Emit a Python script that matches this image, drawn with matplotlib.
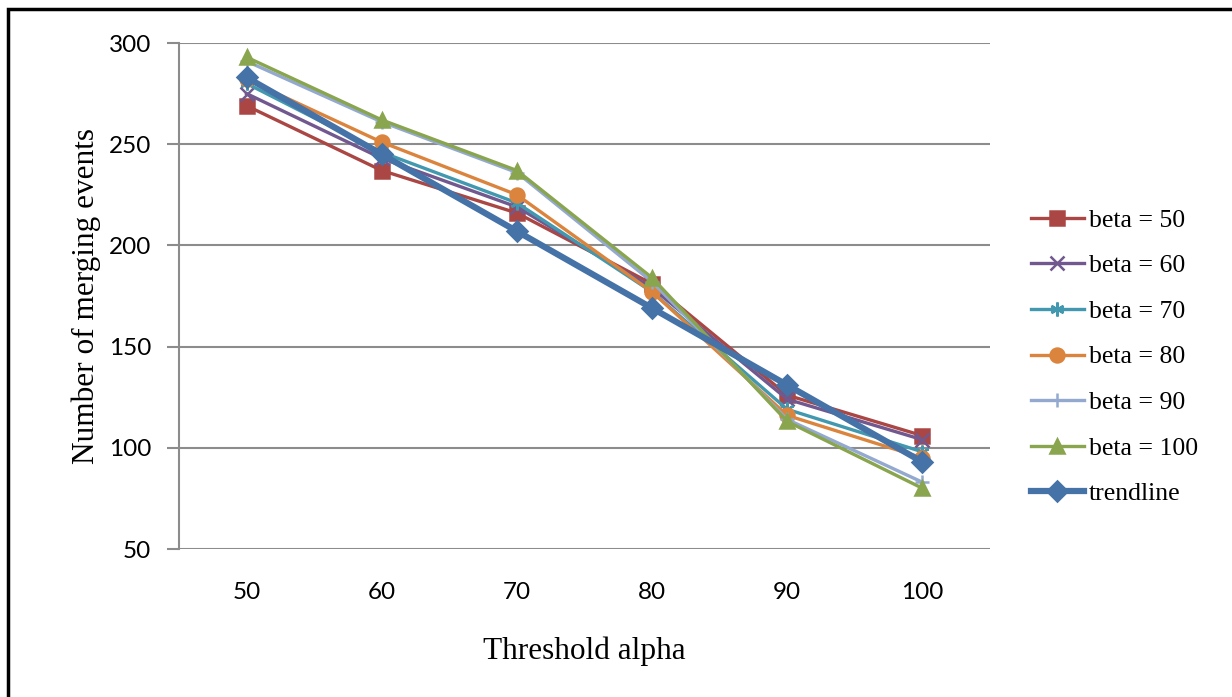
import matplotlib
matplotlib.use("Agg")
import matplotlib.pyplot as plt
from matplotlib.patches import Rectangle

alphas = ["50", "60", "70", "80", "90", "100"]
beta50 = [269, 237, 216, 181, 126, 106]
beta60 = [275, 243, 219, 179, 124, 104]
beta70 = [280, 246, 221, 177, 119, 98]
beta80 = [282, 251, 225, 177, 116, 95]
beta90 = [291, 261, 236, 182, 114, 83]
beta100 = [293, 262, 237, 184, 113, 80]
trendline = [283, 245, 207, 169, 131, 93]

labels = ["beta = 50", "beta = 60", "beta = 70", "beta = 80", "beta = 90", "beta = 100", "trendline"]
yticks = [50, 100, 150, 200, 250, 300]

series = [beta50, beta60, beta70, beta80, beta90, beta100, trendline]
colors = ["#AA4643", "#71588F", "#4198AF", "#DB843D", "#93A9CF", "#89A54E", "#4572A7"]
markers = ["s", "x", (6, 2, 0), "o", "+", "^", "D"]
msizes = [10, 9.5, 10, 10, 10, 10, 10.5]
lws = [2.4, 2.4, 2.4, 2.4, 2.4, 2.4, 4.5]

fig = plt.figure(figsize=(12.32, 6.97), dpi=100)
ax = fig.add_axes([179/1232, 1-549/697, (990-179)/1232, (549-43)/697])

x = list(range(len(alphas)))
for vals, c, m, ms, lw, lab in zip(series, colors, markers, msizes, lws, labels):
    ax.plot(x, vals, color=c, marker=m, markersize=ms, linewidth=lw,
            markeredgecolor=c, markerfacecolor=c, markeredgewidth=1.8, label=lab)

ax.set_xlim(-0.5, len(alphas) - 0.5)
ax.set_ylim(50, 300)
ax.set_yticks(yticks)
ax.set_xticks(x)
ax.set_xticklabels(alphas)
ax.yaxis.grid(True, color="#8C8C8C", linewidth=1.5)
ax.set_axisbelow(True)
for s in ["top", "right", "bottom"]:
    ax.spines[s].set_visible(False)
ax.spines["left"].set_color("#8C8C8C")
ax.spines["left"].set_linewidth(1.5)
ax.tick_params(axis="y", length=9, width=1.5, color="#8C8C8C", pad=11, labelsize=17.5)
ax.tick_params(axis="x", length=0, pad=24, labelsize=17.5)
for t in ax.get_xticklabels() + ax.get_yticklabels():
    t.set_fontfamily("Lato")

ax.set_xlabel("Threshold alpha", fontfamily="Liberation Serif", fontsize=22.5, labelpad=24)
ax.set_ylabel("Number of merging events", fontfamily="Liberation Serif", fontsize=22.5, labelpad=6)

leg = ax.legend(loc="center left", bbox_to_anchor=(1031/1232, 1-357/697),
                bbox_transform=fig.transFigure, frameon=False,
                prop={"family": "Liberation Serif", "size": 18.5},
                handlelength=2.05, handletextpad=0.2, labelspacing=0.88, borderpad=0,
                borderaxespad=0)

fig.patches.append(Rectangle((8/1232, -0.2), 1.2, 1 - 9/697 + 0.2, transform=fig.transFigure,
                             fill=False, edgecolor="black", linewidth=2.5))

fig.savefig("out.png", dpi=100)
